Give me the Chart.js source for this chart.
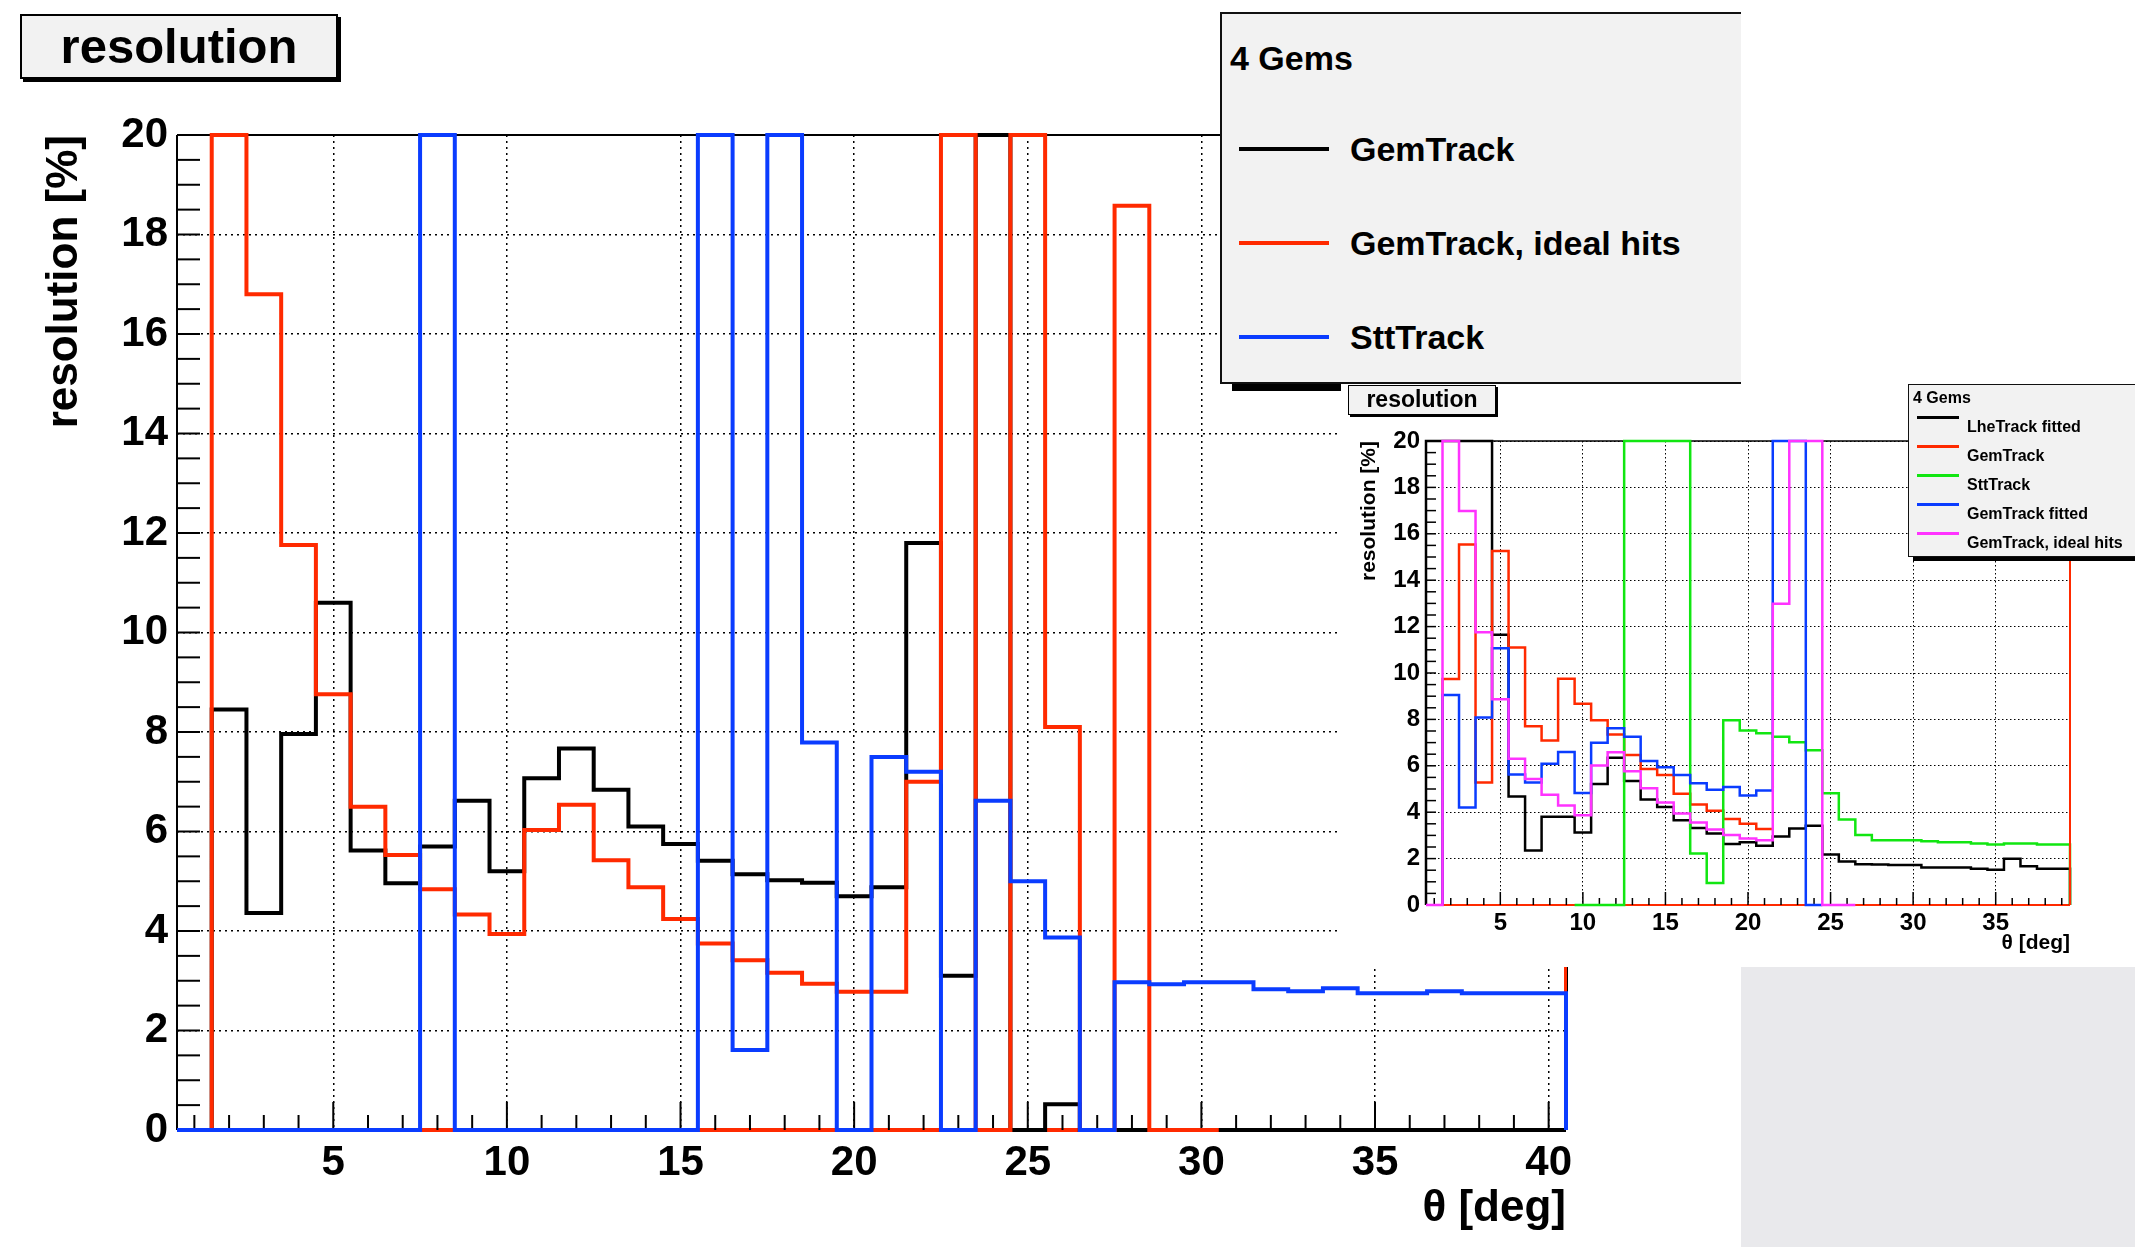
<!DOCTYPE html>
<html><head><meta charset="utf-8">
<script src="https://cdn.jsdelivr.net/npm/chart.js@4.4.1/dist/chart.umd.min.js"></script>
<style>
html,body{margin:0;padding:0;background:#fff;}
body{width:2135px;height:1247px;position:relative;overflow:hidden;font-family:"Liberation Sans",Arial,Helvetica,sans-serif;font-weight:bold;color:#000;}
.abs{position:absolute;}
#mainTitle{left:20px;top:14px;width:318px;height:65px;box-sizing:border-box;border:2px solid #000;background:#f2f2f2;box-shadow:3px 3px 0 #000;font-size:49px;line-height:61px;text-align:center;}
#mainLegend{left:1220px;top:12px;width:521px;height:372px;box-sizing:border-box;background:#f2f2f2;border:2px solid #111;border-right:none;}
#legendShadow{left:1232px;top:384px;width:300px;height:7px;background:#000;}
.row{position:absolute;white-space:nowrap;}
.ml{left:128px;height:40px;line-height:40px;font-size:34px;}
.ms{left:17px;width:90px;height:4px;}
#inset{left:1341px;top:384px;width:794px;height:583px;background:#fff;overflow:hidden;}
#insetTitle{left:7px;top:1px;width:148px;height:30px;box-sizing:border-box;border:1.5px solid #000;background:#f2f2f2;box-shadow:2px 2px 0 #000;font-size:23px;line-height:27px;text-align:center;}
#insetLegend{left:567px;top:0px;width:260px;height:173px;box-sizing:border-box;background:#f2f2f2;border:1.5px solid #111;box-shadow:5px 4px 0 #000;}
.il{left:58px;height:20px;line-height:20px;font-size:16px;}
.is{left:8px;width:42px;height:2.5px;}
#grayPanel{left:1741px;top:967px;width:394px;height:280px;background:#e9e9ec;}
</style></head><body>
<canvas id="mainCanvas" class="abs" width="2135" height="1247" style="left:0;top:0"></canvas>
<div id="mainTitle" class="abs">resolution</div>
<div id="mainLegend" class="abs">
  <div class="row ml" style="left:8px;top:24px;">4 Gems</div>
  <div class="row ms" style="top:133px;background:#000;"></div>
  <div class="row ml" style="top:115px;">GemTrack</div>
  <div class="row ms" style="top:227px;background:#ff2a00;"></div>
  <div class="row ml" style="top:209px;">GemTrack, ideal hits</div>
  <div class="row ms" style="top:321px;background:#0a3cff;"></div>
  <div class="row ml" style="top:303px;">SttTrack</div>
</div>
<div id="legendShadow" class="abs"></div>
<div id="inset" class="abs">
  <canvas id="insetCanvas" class="abs" width="794" height="583" style="left:0;top:0"></canvas>
  <div id="insetTitle" class="abs">resolution</div>
  <div id="insetLegend" class="abs">
    <div class="row il" style="left:4px;top:3px;">4 Gems</div>
    <div class="row is" style="top:31px;background:#000;"></div>
    <div class="row il" style="top:32px;">LheTrack fitted</div>
    <div class="row is" style="top:60px;background:#ff2a00;"></div>
    <div class="row il" style="top:61px;">GemTrack</div>
    <div class="row is" style="top:89px;background:#11e611;"></div>
    <div class="row il" style="top:90px;">SttTrack</div>
    <div class="row is" style="top:118px;background:#0a3cff;"></div>
    <div class="row il" style="top:119px;">GemTrack fitted</div>
    <div class="row is" style="top:147px;background:#ff33ff;"></div>
    <div class="row il" style="top:148px;">GemTrack, ideal hits</div>
  </div>
</div>
<div id="grayPanel" class="abs"></div>
<script>
// ---------------- data: main chart (bins of width 1 centred on theta) ----------------
const mainTheta = [1,2,3,4,5,6,7,8,9,10,11,12,13,14,15,16,17,18,19,20,21,22,23,24,25,26,27,28,29,30,31,32,33,34,35,36,37,38,39,40];
const gemTrack = [0,8.45,4.36,7.96,10.6,5.62,4.96,5.7,6.62,5.2,
                  7.07,7.67,6.84,6.1,5.75,5.41,5.14,5.02,4.97,4.7,
                  4.88,11.8,3.1,20,0,0.52,0,0,0,0,
                  0,0,0,0,0,0,0,0,0,0];
const gemTrackIdeal = [0,20,16.8,11.76,8.76,6.5,5.53,4.84,4.33,3.94,
                       6.03,6.54,5.42,4.88,4.24,3.75,3.41,3.16,2.94,2.78,
                       2.78,7.0,20,0,20,8.1,0,18.58,0,0,
                       null,null,null,null,null,null,null,null,null,null];
const sttTrack = [0,0,0,0,0,0,0,20,0,0,
                  0,0,0,0,0,20,1.61,20,7.79,0,
                  7.5,7.2,0,6.62,5.0,3.87,0,2.97,2.93,2.97,
                  2.97,2.83,2.79,2.85,2.75,2.75,2.79,2.75,2.75,2.75];
const mainXTicks = [5,10,15,20,25,30,35,40];
const mainYTicks = [0,2,4,6,8,10,12,14,16,18,20];

// ---------------- data: inset chart ----------------
const insetTheta = [1,2,3,4,5,6,7,8,9,10,11,12,13,14,15,16,17,18,19,20,21,22,23,24,25,26,27,28,29,30,31,32,33,34,35,36,37,38,39];
const lheFitted = [20,20,20,20,11.65,4.68,2.35,3.8,3.8,3.12,
                   5.22,6.35,5.35,4.55,4.22,3.65,3.32,3.08,2.63,2.7,
                   2.55,2.95,3.3,3.42,2.18,1.88,1.76,1.75,1.72,1.72,
                   1.62,1.62,1.62,1.56,1.52,1.99,1.67,1.56,1.56];
const insetGemTrack = [null,9.74,15.54,5.28,15.26,11.1,7.7,7.09,9.75,8.67,
                       7.96,7.35,6.47,5.86,5.6,4.8,4.33,4.06,3.71,3.5,
                       3.28,null,null,null,null,null,null,null,null,null,
                       null,null,null,null,null,null,null,null,null];
const insetSttTrack = [null,null,null,null,null,null,null,null,null,0,
                       0,0,20,20,20,20,2.22,0.95,7.96,7.52,
                       7.4,7.25,7.02,6.67,4.82,3.68,3.02,2.79,2.79,2.79,
                       2.75,2.7,2.7,2.65,2.61,2.65,2.65,2.61,2.61];
const insetGemFitted = [null,9.05,4.2,8.08,11.07,5.63,5.28,6.09,6.6,4.83,
                        6.99,7.62,7.25,6.21,5.94,5.6,5.25,4.97,5.09,4.72,
                        4.94,20,20,0,null,null,null,null,null,null,
                        null,null,null,null,null,null,null,null,null];
const insetIdeal = [0,20,16.98,11.76,8.87,6.3,5.43,4.75,4.29,3.87,
                    6.01,6.58,5.77,5.03,4.42,3.94,3.56,3.25,3.02,2.87,
                    2.79,12.99,20,20,0,0,null,null,null,null,
                    null,null,null,null,null,null,null,null,null];
const insetXTicks = [5,10,15,20,25,30,35];
const insetYTicks = [0,2,4,6,8,10,12,14,16,18,20];

// ---------------- helpers ----------------
function histOutline(centers, values, closeEnd) {
  const pts = [];
  let started = false, prevNull = false;
  for (let i = 0; i < values.length; i++) {
    const v = values[i];
    const lo = centers[i] - 0.5, hi = centers[i] + 0.5;
    if (v === null) {
      if (started && !prevNull) pts.push({x: lo, y: null});
      prevNull = true;
      continue;
    }
    if (!started) { pts.push({x: lo, y: 0}); started = true; }
    pts.push({x: lo, y: v});
    pts.push({x: hi, y: v});
    prevNull = false;
  }
  if (closeEnd && values[values.length - 1] !== null) {
    pts.push({x: centers[centers.length - 1] + 0.5, y: 0});
  }
  return pts;
}

const FONT = '"Liberation Sans", Arial, Helvetica, sans-serif';

const rootFrame = {
  id: 'rootFrame',
  beforeDatasetsDraw(chart, args, o) {
    const {ctx, chartArea: a, scales: {x, y}} = chart;
    const line = (x1, y1, x2, y2, c, w) => {
      ctx.beginPath(); ctx.strokeStyle = c; ctx.lineWidth = w;
      ctx.moveTo(x1, y1); ctx.lineTo(x2, y2); ctx.stroke();
    };
    ctx.save();
    ctx.setLineDash([]);
    line(a.left, a.bottom, a.right, a.bottom, o.bottomColor, o.bottomWidth);
    if (!o.rightAfter) {
      line(a.right + o.frameWidth / 2, a.top, a.right + o.frameWidth / 2, a.bottom, '#000', o.frameWidth);
      line(a.right - o.rightWidth / 2 + 1, a.top, a.right - o.rightWidth / 2 + 1, a.bottom, o.rightColor, o.rightWidth);
    }
    line(a.left, a.top, a.right, a.top, '#000', o.frameWidth);
    line(a.left, a.top, a.left, a.bottom, '#000', o.frameWidth);
    const nY = Math.round((y.max - y.min) / o.yMinor);
    for (let k = 0; k <= nY; k++) {
      const py = y.getPixelForValue(y.min + k * o.yMinor);
      line(a.left, py, a.left + o.yTickLen, py, '#000', o.tickWidth);
    }
    for (let v = Math.ceil(x.min); v < x.max; v += 1) {
      const px = x.getPixelForValue(v);
      const len = (v % 5 === 0) ? o.xMajorLen : o.xMinorLen;
      line(px, a.bottom, px, a.bottom - len, '#000', o.tickWidth);
    }
    ctx.restore();
  },
  afterDatasetsDraw(chart, args, o) {
    if (!o.rightAfter) return;
    const {ctx, chartArea: a} = chart;
    ctx.save();
    ctx.beginPath(); ctx.strokeStyle = o.rightColor; ctx.lineWidth = o.rightWidth;
    ctx.moveTo(a.right, a.top); ctx.lineTo(a.right, a.bottom); ctx.stroke();
    ctx.restore();
  }
};

function ds(label, pts, color, width, order) {
  return {label, data: pts, borderColor: color, backgroundColor: color, borderWidth: width,
          showLine: true, pointRadius: 0, pointHoverRadius: 0, tension: 0, spanGaps: false,
          fill: false, order, clip: Math.ceil(width), borderJoinStyle: 'miter', borderCapStyle: 'butt'};
}

function axisOpts(cfg) {
  return {
    x: {
      type: 'linear', min: cfg.xmin, max: cfg.xmax, position: 'bottom',
      afterFit: s => { s.height = cfg.xHeight; },
      afterBuildTicks: s => { s.ticks = cfg.xTicks.map(v => ({value: v})); },
      ticks: {font: {family: FONT, size: cfg.tickSize, weight: 'bold'}, color: '#000',
              padding: cfg.xPad, maxRotation: 0, autoSkip: false, callback: v => String(v)},
      grid: {color: '#000', lineWidth: cfg.gridW, drawTicks: false},
      border: {display: false, dash: cfg.dash},
      title: {display: true, text: 'θ [deg]', align: 'end', color: '#000',
              font: {family: FONT, size: cfg.titleSize, weight: 'bold'},
              padding: {top: 0, bottom: cfg.xTitlePad}}
    },
    y: {
      type: 'linear', min: 0, max: 20,
      afterFit: s => { s.width = cfg.yWidth; },
      afterBuildTicks: s => { s.ticks = cfg.yTicks.map(v => ({value: v})); },
      ticks: {font: {family: FONT, size: cfg.tickSize, weight: 'bold'}, color: '#000',
              padding: cfg.yPad, autoSkip: false, callback: v => String(v)},
      grid: {color: '#000', lineWidth: cfg.gridW, drawTicks: false},
      border: {display: false, dash: cfg.dash},
      title: {display: true, text: 'resolution [%]', align: 'end', color: '#000',
              font: {family: FONT, size: cfg.titleSize, weight: 'bold'},
              padding: {top: cfg.yTitlePad, bottom: 0}}
    }
  };
}

// ---------------- main chart ----------------
new Chart(document.getElementById('mainCanvas'), {
  type: 'scatter',
  data: {datasets: [
    ds('SttTrack', histOutline(mainTheta, sttTrack, true), '#0a3cff', 4, 0),
    ds('GemTrack, ideal hits', histOutline(mainTheta, gemTrackIdeal, false), '#ff2a00', 4, 1),
    ds('GemTrack', histOutline(mainTheta, gemTrack, false), '#000000', 4, 2)
  ]},
  options: {
    responsive: false, animation: false, devicePixelRatio: 1,
    layout: {padding: {left: 0, top: 135, right: 569, bottom: 0}},
    plugins: {legend: {display: false}, tooltip: {enabled: false},
      rootFrame: {bottomColor: '#ff2a00', bottomWidth: 4, rightColor: '#ff2a00', rightWidth: 3,
                  rightAfter: false, frameWidth: 2, tickWidth: 2, yMinor: 0.5, yTickLen: 23,
                  xMinorLen: 15, xMajorLen: 28}},
    scales: axisOpts({xmin: 0.5, xmax: 40.5, xTicks: mainXTicks, yTicks: mainYTicks,
      xHeight: 117, yWidth: 177, tickSize: 42, titleSize: 44, xPad: 8, yPad: 9,
      gridW: 1.5, dash: [2, 4], xTitlePad: 12, yTitlePad: 38})
  },
  plugins: [rootFrame]
});

// ---------------- inset chart ----------------
new Chart(document.getElementById('insetCanvas'), {
  type: 'scatter',
  data: {datasets: [
    ds('GemTrack, ideal hits', histOutline(insetTheta, insetIdeal, false), '#ff33ff', 2.5, 0),
    ds('GemTrack fitted', histOutline(insetTheta, insetGemFitted, false), '#0a3cff', 2.5, 1),
    ds('SttTrack', histOutline(insetTheta, insetSttTrack, true), '#11e611', 2.5, 2),
    ds('GemTrack', histOutline(insetTheta, insetGemTrack, false), '#ff2a00', 2.5, 3),
    ds('LheTrack fitted', histOutline(insetTheta, lheFitted, true), '#000000', 2.5, 4)
  ]},
  options: {
    responsive: false, animation: false, devicePixelRatio: 1,
    layout: {padding: {left: 0, top: 57, right: 65, bottom: 0}},
    plugins: {legend: {display: false}, tooltip: {enabled: false},
      rootFrame: {bottomColor: '#ff2a00', bottomWidth: 2, rightColor: '#ff2a00', rightWidth: 2,
                  rightAfter: true, frameWidth: 1.5, tickWidth: 1.5, yMinor: 0.5, yTickLen: 10,
                  xMinorLen: 7, xMajorLen: 13}},
    scales: axisOpts({xmin: 0.5, xmax: 39.5, xTicks: insetXTicks, yTicks: insetYTicks,
      xHeight: 62, yWidth: 85, tickSize: 24, titleSize: 21, xPad: 4, yPad: 6,
      gridW: 1, dash: [1.5, 2.5], xTitlePad: 11, yTitlePad: 16})
  },
  plugins: [rootFrame]
});
</script>
</body></html>
